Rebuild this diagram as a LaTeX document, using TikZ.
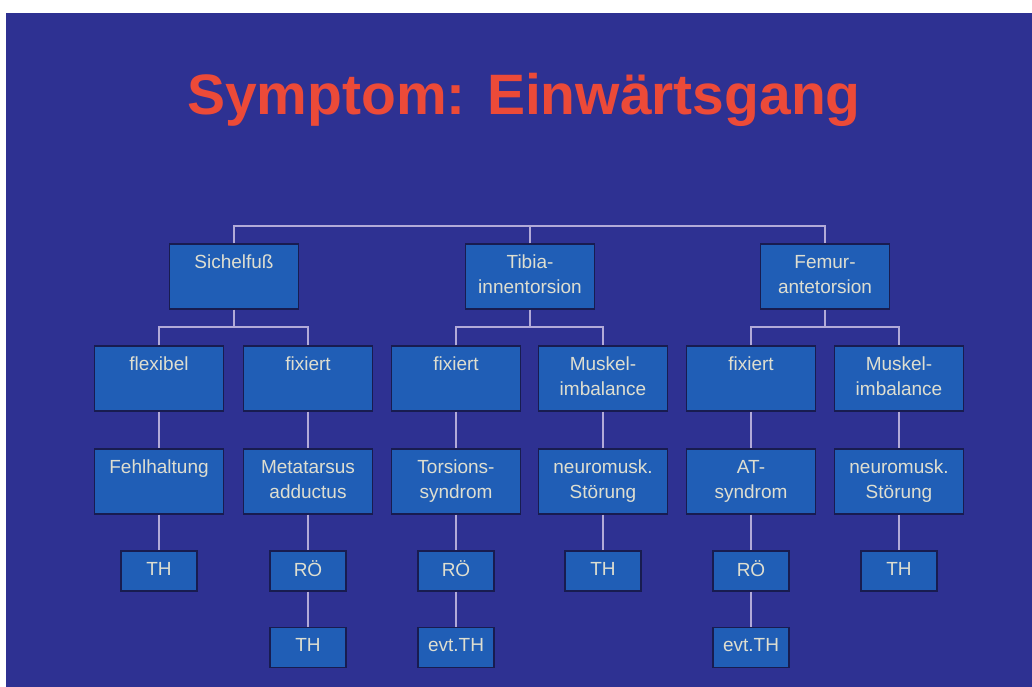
\documentclass[tikz,border=0pt]{standalone}
\usepackage{fontspec}
\setmainfont{Liberation Sans}
\definecolor{slidebg}{RGB}{46,49,146}
\definecolor{boxfill}{RGB}{32,94,182}
\definecolor{boxedge}{RGB}{24,28,80}
\definecolor{linecol}{RGB}{178,170,216}
\definecolor{titlecol}{RGB}{236,74,56}
\definecolor{textcol}{RGB}{222,222,208}
\newcommand\ls{\rule[-5.5pt]{0pt}{19.5pt}}
\begin{document}
\begin{tikzpicture}[x=1pt,y=-1pt,
  bigbox/.style={draw=boxedge, line width=1.2pt, fill=boxfill, text=textcol,
    minimum width=129pt, minimum height=65pt, inner sep=0pt, align=center,
    font=\fontsize{19}{25}\selectfont},
  smallbox/.style={bigbox, minimum width=76pt, minimum height=40pt},
  conn/.style={draw=linecol, line width=2.5pt}]
\useasboundingbox (0,0) rectangle (1032,687);
\fill[white] (0,0) rectangle (1032,687);
\fill[slidebg] (6,13) rectangle (1032,687);

\node[font=\fontsize{57}{60}\selectfont\bfseries, text=titlecol, anchor=base, inner sep=0pt] (title) at (524,115) {Symptom: Einwärtsgang};

% level 1
\node[bigbox] (s) at (234,276.5) {Sichelfuß\ls\\\ls};
\node[bigbox] (t) at (530,276.5) {Tibia-\ls\\innentorsion\ls};
\node[bigbox] (f) at (825,276.5) {Femur-\ls\\antetorsion\ls};

% level 2
\node[bigbox] (s1) at (159,378.5) {flexibel\ls\\\ls};
\node[bigbox] (s2) at (308,378.5) {fixiert\ls\\\ls};
\node[bigbox] (t1) at (456,378.5) {fixiert\ls\\\ls};
\node[bigbox] (t2) at (603,378.5) {Muskel-\ls\\imbalance\ls};
\node[bigbox] (f1) at (751,378.5) {fixiert\ls\\\ls};
\node[bigbox] (f2) at (899,378.5) {Muskel-\ls\\imbalance\ls};

% level 3
\node[bigbox] (s1b) at (159,481.5) {Fehlhaltung\ls\\\ls};
\node[bigbox] (s2b) at (308,481.5) {Metatarsus\ls\\adductus\ls};
\node[bigbox] (t1b) at (456,481.5) {Torsions-\ls\\syndrom\ls};
\node[bigbox] (t2b) at (603,481.5) {neuromusk.\ls\\Störung\ls};
\node[bigbox] (f1b) at (751,481.5) {AT-\ls\\syndrom\ls};
\node[bigbox] (f2b) at (899,481.5) {neuromusk.\ls\\Störung\ls};

% level 4
\node[smallbox] (s1c) at (159,571) {TH\ls};
\node[smallbox] (s2c) at (308,571) {RÖ\ls};
\node[smallbox] (t1c) at (456,571) {RÖ\ls};
\node[smallbox] (t2c) at (603,571) {TH\ls};
\node[smallbox] (f1c) at (751,571) {RÖ\ls};
\node[smallbox] (f2c) at (899,571) {TH\ls};

% level 5
\node[smallbox] (s2d) at (308,647.5) {TH\ls};
\node[smallbox] (t1d) at (456,647.5) {evt.TH\ls};
\node[smallbox] (f1d) at (751,647.5) {evt.TH\ls};

% connectors
\coordinate (topbar) at (530,226);
\draw[conn] (s.north) |- (topbar) -| (f.north);
\draw[conn] (t.north) -- (topbar);

\coordinate (sbar) at (234,327);
\coordinate (tbar) at (530,327);
\coordinate (fbar) at (825,327);
\draw[conn] (s1.north) |- (sbar) -| (s2.north);
\draw[conn] (s.south) -- (sbar);
\draw[conn] (t1.north) |- (tbar) -| (t2.north);
\draw[conn] (t.south) -- (tbar);
\draw[conn] (f1.north) |- (fbar) -| (f2.north);
\draw[conn] (f.south) -- (fbar);

\draw[conn] (s1.south) -- (s1b.north);
\draw[conn] (s2.south) -- (s2b.north);
\draw[conn] (t1.south) -- (t1b.north);
\draw[conn] (t2.south) -- (t2b.north);
\draw[conn] (f1.south) -- (f1b.north);
\draw[conn] (f2.south) -- (f2b.north);

\draw[conn] (s1b.south) -- (s1c.north);
\draw[conn] (s2b.south) -- (s2c.north);
\draw[conn] (t1b.south) -- (t1c.north);
\draw[conn] (t2b.south) -- (t2c.north);
\draw[conn] (f1b.south) -- (f1c.north);
\draw[conn] (f2b.south) -- (f2c.north);

\draw[conn] (s2c.south) -- (s2d.north);
\draw[conn] (t1c.south) -- (t1d.north);
\draw[conn] (f1c.south) -- (f1d.north);
\end{tikzpicture}
\end{document}
